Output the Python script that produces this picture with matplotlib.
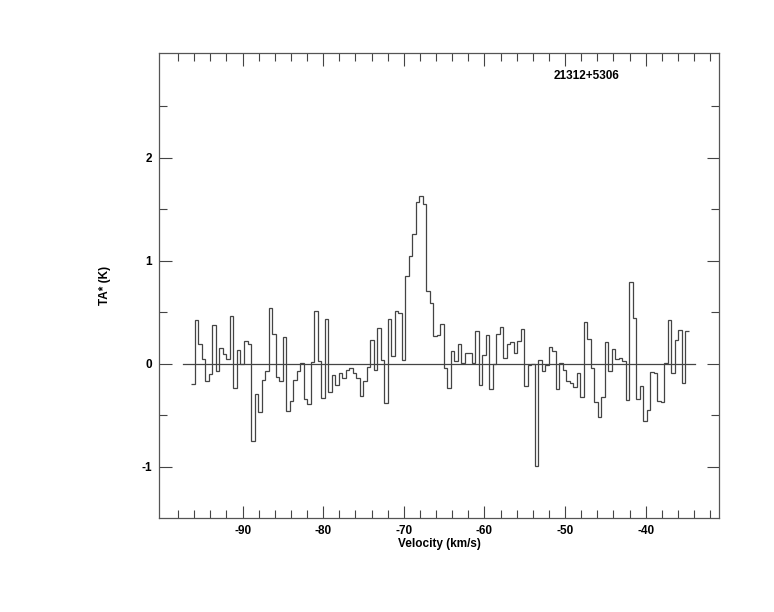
import numpy as np
import matplotlib
matplotlib.use("Agg")
import matplotlib.pyplot as plt
from matplotlib.ticker import FixedLocator

plt.rcParams.update({"font.family": ["Liberation Sans", "DejaVu Sans"],
                     "font.size": 8.5, "font.weight": "bold",
                     "axes.unicode_minus": False})

source = "21312+5306"
v_start = -96.34      # left edge of first channel (km/s)
dv = 0.4344           # channel width (km/s)
ta = [-0.20,
      0.42, 0.19, 0.05, -0.17, -0.10, 0.38, -0.07, 0.15, 0.09, 0.05,
      0.46, -0.24, 0.13, 0.00, 0.22, 0.19, -0.75, -0.29, -0.47, -0.16,
      -0.07, 0.54, 0.29, -0.13, -0.17, 0.26, -0.46,
      -0.36, -0.16, -0.07, 0.01, -0.34, -0.39, 0.02, 0.51, 0.03, -0.33,
      0.43, -0.28, -0.11, -0.21, -0.09, -0.14, -0.06, -0.04, -0.09, -0.14,
      -0.31, -0.17, -0.03, 0.23, -0.06, 0.35, 0.04, -0.38, 0.43,
      0.07, 0.51, 0.49, 0.04, 0.85, 1.05, 1.26, 1.57, 1.63, 1.55,
      0.71, 0.59, 0.27, 0.28, 0.39, -0.04, -0.24, 0.12, 0.03, 0.19,
      0.01, 0.10, 0.10, 0.01, 0.32, -0.21, 0.08, 0.28, -0.25,
      0.00, 0.29, 0.36, 0.06, 0.19, 0.21, 0.10, 0.22, 0.34, -0.22,
      -0.01, 0.00, -0.99, 0.04, -0.07, -0.01, 0.16, 0.12, -0.25, 0.01,
      -0.06, -0.17, -0.19, -0.23, -0.09, -0.32, 0.41, 0.24,
      -0.04, -0.37, -0.52, -0.32, 0.21, -0.07, 0.14, 0.05, 0.06, 0.03,
      -0.35, 0.79, 0.44, -0.34, -0.22, -0.56, -0.45, -0.08, -0.09, -0.36,
      -0.37, 0.01, 0.42, -0.09, 0.23, 0.33, -0.19, 0.32]
baseline_ext = [-97.4, -33.9]
xlim = [-100.37, -30.9]
ylim = [-1.5, 3.02]
x_major = [-90, -80, -70, -60, -50, -40]
x_minor = [-98, -96, -94, -92, -88, -86, -84, -82, -78, -76, -74, -72,
           -68, -66, -64, -62, -58, -56, -54, -52, -48, -46, -44, -42,
           -38, -36, -34, -32]
y_major = [-1, 0, 1, 2]
y_minor = [-0.5, 0.5, 1.5, 2.5]

ta = np.array(ta)
edges = v_start + dv * np.arange(len(ta) + 1)

fig = plt.figure(figsize=(7.74, 6.12), dpi=100)
ax = fig.add_axes([0.2054, 0.1536, 0.929 - 0.2054, 0.9134 - 0.1536])

ax.stairs(ta, edges, baseline=None, color="#444444", lw=0.9)
ax.plot(baseline_ext, [0, 0], color="#444444", lw=0.9)

ax.set_xlim(*xlim); ax.set_ylim(*ylim)
ax.xaxis.set_major_locator(FixedLocator(x_major))
ax.xaxis.set_minor_locator(FixedLocator(x_minor))
ax.yaxis.set_major_locator(FixedLocator(y_major))
ax.yaxis.set_minor_locator(FixedLocator(y_minor))
ax.tick_params(which="both", direction="in", top=True, right=True,
               color="#444444", width=0.8, labelsize=8.5)
ax.tick_params(which="major", length=9, pad=5)
ax.tick_params(which="minor", length=5.5)
for s in ax.spines.values():
    s.set_color("#555555"); s.set_linewidth(0.9)

ax.set_xlabel("Velocity (km/s)", fontweight="bold", labelpad=1)
ax.set_ylabel("TA* (K)", fontweight="bold", labelpad=22)
ax.text(0.763, 0.95, source, transform=ax.transAxes, ha="center", va="center",
        fontweight="bold")

fig.savefig("out.png", dpi=100)
